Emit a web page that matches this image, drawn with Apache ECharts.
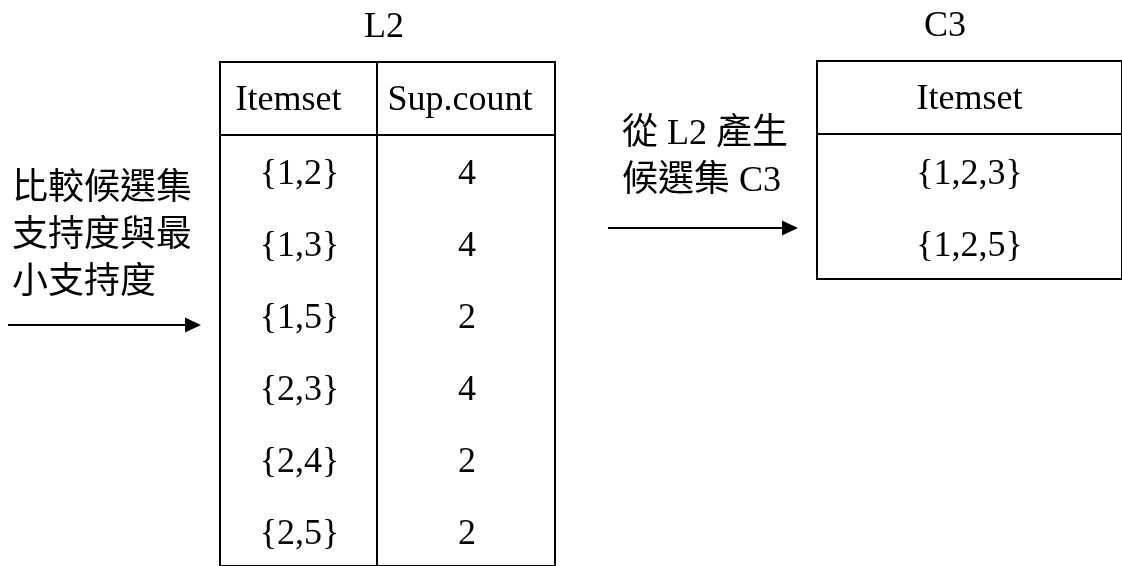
<!DOCTYPE html>
<html>
<head>
<meta charset="utf-8">
<script src="https://cdn.jsdelivr.net/npm/echarts@6/dist/echarts.min.js"></script>
<style>html,body{margin:0;padding:0;background:#fff}#c{width:1122px;height:566px}</style>
</head>
<body>
<div id="c"></div>
<script>
// ---- data ----
const tableTitles = ['L2', 'C3'];
const l2Columns = ['Itemset', 'Sup.count'];
const l2Itemsets = ['{1,2}', '{1,3}', '{1,5}', '{2,3}', '{2,4}', '{2,5}'];
const l2SupCounts = [4, 4, 2, 4, 2, 2];
const c3Columns = ['Itemset'];
const c3Itemsets = ['{1,2,3}', '{1,2,5}'];
const leftNote = ['比較候選集', '支持度與最', '小支持度'];
const rightNote = ['從 L2 產生', '候選集 C3'];

// ---- styles ----
const SERIF = '"Liberation Serif", "Times New Roman", "Noto Sans CJK TC", serif';
const CJK = '"Noto Sans CJK TC", "Liberation Serif", sans-serif';
const FS = 36;
const border = { show: true, borderColor: '#000', borderWidth: 2, backgroundColor: 'transparent' };

const grids = [
  Object.assign({ left: 220, top: 62, width: 157, height: 73 }, border),   // 0 L2 header col1
  Object.assign({ left: 377, top: 62, width: 178, height: 73 }, border),   // 1 L2 header col2
  Object.assign({ left: 220, top: 135, width: 157, height: 433 }, border), // 2 L2 body col1
  Object.assign({ left: 377, top: 135, width: 178, height: 433 }, border), // 3 L2 body col2
  Object.assign({ left: 817, top: 61, width: 308, height: 73 }, border),   // 4 C3 header
  Object.assign({ left: 817, top: 134, width: 308, height: 145 }, border)  // 5 C3 body
];

const xCats = [[l2Columns[0]], [l2Columns[1]], [l2Columns[0]], [l2Columns[1]], [c3Columns[0]], [c3Columns[0]]];
const yCats = [['h'], ['h'], l2Itemsets, l2Itemsets, ['h'], c3Itemsets];

const xAxis = xCats.map((d, i) => ({ type: 'category', gridIndex: i, data: d, show: false }));
const yAxis = yCats.map((d, i) => ({ type: 'category', gridIndex: i, data: d, show: false, inverse: true }));

function cellSeries(gi, data, formatter, offset) {
  return {
    type: 'scatter', xAxisIndex: gi, yAxisIndex: gi, silent: true,
    symbolSize: 1, itemStyle: { color: 'rgba(255,255,255,0)' },
    data: data,
    label: {
      show: true, position: 'inside', formatter: formatter, offset: offset || [0, 0],
      color: '#000', opacity: 1, textBorderWidth: 0, textBorderColor: 'transparent',
      fontSize: FS, fontFamily: SERIF, align: 'center', verticalAlign: 'middle'
    },
    emphasis: { disabled: true }
  };
}

const series = [
  cellSeries(0, [[l2Columns[0], 'h']], p => p.value[0], [-10, 2]),
  cellSeries(1, [[l2Columns[1], 'h']], p => p.value[0], [-6, 2]),
  cellSeries(2, l2Itemsets.map(s => [l2Columns[0], s]), p => p.value[1], [1, 4]),
  cellSeries(3, l2Itemsets.map((s, i) => [l2Columns[1], s, l2SupCounts[i]]), p => String(p.value[2]), [1, 4]),
  cellSeries(4, [[c3Columns[0], 'h']], p => p.value[0], [0, 2]),
  cellSeries(5, c3Itemsets.map(s => [c3Columns[0], s]), p => p.value[1], [0, 4])
];

const graphic = [];
// table titles
[[384, 28], [945, 27]].forEach((pos, i) => {
  graphic.push({ type: 'text', x: pos[0], y: pos[1], silent: true,
    style: { text: tableTitles[i], font: FS + 'px ' + SERIF, fill: '#000', align: 'center', verticalAlign: 'middle' } });
});
// notes
leftNote.forEach((t, i) => {
  graphic.push({ type: 'text', x: 12, y: 185 + i * 47, silent: true,
    style: { text: t, font: FS + 'px ' + CJK, fill: '#000', align: 'left', verticalAlign: 'middle' } });
});
rightNote.forEach((t, i) => {
  graphic.push({ type: 'text', x: 622, y: 135 + i * 47, silent: true,
    style: { text: t, font: FS + 'px ' + SERIF, fill: '#000', align: 'left', verticalAlign: 'middle' } });
});
// arrows
function arrow(x1, x2, y) {
  graphic.push({ type: 'line', silent: true, shape: { x1: x1, y1: y, x2: x2 - 12, y2: y }, style: { stroke: '#000', lineWidth: 2 } });
  graphic.push({ type: 'polygon', silent: true, shape: { points: [[x2 - 16, y - 7.5], [x2, y], [x2 - 16, y + 7.5]] }, style: { fill: '#000' } });
}
arrow(8, 201, 325);
arrow(608, 798, 228);

const chart = echarts.init(document.getElementById('c'), null, { renderer: 'canvas' });
chart.setOption({
  animation: false,
  backgroundColor: '#fff',
  grid: grids, xAxis: xAxis, yAxis: yAxis, series: series, graphic: graphic
});
</script>
</body>
</html>
